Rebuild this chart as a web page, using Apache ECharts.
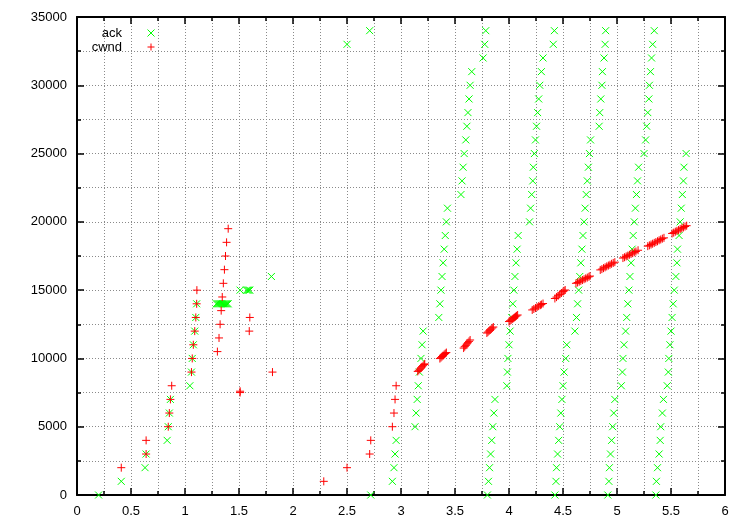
<!DOCTYPE html>
<html>
<head>
<meta charset="utf-8">
<script src="https://cdn.jsdelivr.net/npm/echarts@6/dist/echarts.min.js"></script>
<style>
html,body{margin:0;padding:0;background:#fff;}
#chart{width:750px;height:525px;}
</style>
</head>
<body>
<div id="chart"></div>
<script>
// ---- data (time in s, sequence / window in bytes) ----
const ackSlowStart = [
  [0.20,0],[0.41,1000],[0.63,2000],[0.64,3000],[0.835,4000],[0.845,5000],[0.855,6000],[0.865,7000],
  [1.045,8000],[1.06,9000],[1.067,10000],[1.077,11000],[1.09,12000],[1.10,13000],[1.108,14000]
];
const ackDupCluster = [
  [1.29,14000],[1.30,14000],[1.31,14000],[1.32,14000],[1.33,14000],[1.34,14000],[1.35,14000],
  [1.36,14000],[1.37,14000],[1.38,14000],[1.39,14000],[1.40,14000],
  [1.51,15000],[1.57,15000],[1.58,15000],[1.59,15000],[1.60,15000],[1.80,16000]
];
const ackLater = [
  [2.50,33000],[2.71,34000],[2.72,0],[2.92,1000],[2.935,2000],[2.945,3000],[2.955,4000],
  [3.13,5000],[3.14,6000],[3.15,7000],[3.16,8000],[3.17,9000],[3.185,10000],[3.195,11000],[3.205,12000],
  [3.35,13000],[3.36,14000],[3.37,15000],[3.38,16000],[3.39,17000],[3.40,18000],[3.41,19000],[3.42,20000],[3.43,21000],
  [3.555,22000],[3.565,23000],[3.575,24000],[3.585,25000],[3.60,26000],[3.61,27000],[3.62,28000],[3.63,29000],[3.64,30000],[3.655,31000],
  [3.76,32000],[3.775,33000],[3.785,34000],
  [3.80,0],[3.81,1000],[3.82,2000],[3.83,3000],[3.84,4000],[3.85,5000],[3.86,6000],[3.87,7000],
  [3.98,8000],[3.985,9000],[3.99,10000],[4.00,11000],[4.01,12000],[4.025,13000],[4.035,14000],[4.045,15000],
  [4.055,16000],[4.065,17000],[4.075,18000],[4.085,19000],
  [4.19,20000],[4.20,21000],[4.21,22000],[4.22,23000],[4.225,24000],[4.235,25000],[4.245,26000],[4.255,27000],
  [4.265,28000],[4.275,29000],[4.285,30000],[4.30,31000],[4.315,32000],
  [4.41,33000],[4.42,34000],
  [4.425,0],[4.435,1000],[4.44,2000],[4.45,3000],[4.46,4000],[4.47,5000],[4.48,6000],[4.49,7000],
  [4.50,8000],[4.51,9000],[4.525,10000],[4.535,11000],
  [4.61,12000],[4.625,13000],[4.635,14000],[4.645,15000],[4.655,16000],[4.665,17000],[4.675,18000],[4.685,19000],
  [4.695,20000],[4.705,21000],[4.715,22000],[4.725,23000],[4.735,24000],[4.745,25000],[4.755,26000],
  [4.835,27000],[4.84,28000],[4.85,29000],[4.86,30000],[4.865,31000],[4.88,32000],[4.89,33000],[4.895,34000],
  [4.915,0],[4.925,1000],[4.93,2000],[4.94,3000],[4.95,4000],[4.96,5000],[4.97,6000],[4.98,7000],
  [5.04,8000],[5.05,9000],[5.055,10000],[5.065,11000],[5.08,12000],[5.09,13000],[5.10,14000],[5.11,15000],
  [5.12,16000],[5.13,17000],[5.14,18000],[5.15,19000],[5.16,20000],[5.17,21000],[5.18,22000],[5.19,23000],[5.20,24000],
  [5.25,25000],[5.265,26000],[5.275,27000],[5.285,28000],[5.295,29000],[5.30,30000],[5.31,31000],[5.32,32000],[5.33,33000],[5.345,34000],
  [5.36,0],[5.365,1000],[5.375,2000],[5.39,3000],[5.40,4000],[5.405,5000],[5.42,6000],[5.43,7000],
  [5.465,8000],[5.475,9000],[5.48,10000],[5.49,11000],[5.50,12000],[5.51,13000],[5.52,14000],[5.53,15000],
  [5.545,16000],[5.555,17000],[5.56,18000],[5.575,19000],[5.585,20000],[5.595,21000],[5.605,22000],[5.615,23000],[5.62,24000],[5.64,25000]
];
const cwndSlowStart = [
  [0.41,2000],[0.64,3000],[0.64,4000],[0.845,5000],[0.855,6000],[0.865,7000],[0.877,8000],
  [1.06,9000],[1.067,10000],[1.077,11000],[1.09,12000],[1.10,13000],[1.108,14000],[1.11,15000],
  [1.30,10500],[1.315,11500],[1.325,12500],[1.335,13500],[1.345,14500],[1.355,15500],[1.365,16500],
  [1.375,17500],[1.385,18500],[1.40,19500],
  [1.51,7500],[1.51,7600],[1.595,12000],[1.60,13000],[1.81,9000],
  [2.285,1000],[2.50,2000],[2.71,3000],[2.72,4000],[2.92,5000],[2.935,6000],[2.945,7000],[2.955,8000]
];
const cwndAvoidance = [
  [3.155,9050],[3.165,9130],[3.175,9220],[3.185,9300],[3.195,9390],[3.205,9470],[3.215,9560],[3.22,9600],
  [3.36,9990],[3.37,10060],[3.38,10140],[3.39,10210],[3.40,10290],[3.41,10360],[3.42,10430],
  [3.58,10760],[3.59,10860],[3.60,10960],[3.61,11060],[3.62,11150],[3.63,11250],[3.64,11350],
  [3.795,11860],[3.805,11930],[3.815,12010],[3.825,12080],[3.835,12150],[3.845,12230],[3.855,12300],
  [4.00,12700],[4.01,12760],[4.02,12820],[4.03,12880],[4.04,12940],[4.05,13000],[4.06,13060],[4.07,13120],[4.08,13180],
  [4.215,13550],[4.23,13620],[4.245,13690],[4.26,13760],[4.275,13830],[4.29,13900],[4.30,13950],[4.315,14020],
  [4.425,14390],[4.44,14490],[4.455,14590],[4.47,14690],[4.485,14790],[4.50,14890],[4.51,14950],[4.52,15010],
  [4.62,15500],[4.635,15560],[4.65,15620],[4.665,15680],[4.68,15740],[4.695,15800],[4.71,15860],[4.725,15920],[4.74,15980],[4.75,16030],
  [4.845,16480],[4.86,16540],[4.875,16610],[4.89,16670],[4.905,16740],[4.92,16800],[4.935,16860],[4.95,16930],[4.965,16990],[4.98,17050],
  [5.055,17350],[5.07,17410],[5.085,17470],[5.10,17530],[5.115,17590],[5.13,17650],[5.145,17710],[5.16,17770],[5.175,17830],[5.195,17920],
  [5.285,18220],[5.30,18280],[5.315,18340],[5.33,18400],[5.345,18460],[5.36,18520],[5.375,18580],[5.39,18650],[5.405,18710],[5.42,18770],[5.435,18830],
  [5.51,19150],[5.525,19210],[5.54,19280],[5.555,19340],[5.57,19400],[5.585,19470],[5.60,19530],[5.615,19590],[5.63,19660],[5.645,19720]
];
const seriesNames = ['ack', 'cwnd'];

// ---- styling ----
const GREEN = '#00ff00';
const RED = '#ff0000';
const XMARK = 'path://M0,0L10,10M10,0L0,10';
const PLUS = 'path://M5,0L5,10M0,5L10,5';
const FONT = 'Liberation Sans, Arial, sans-serif';
const gridLine = {show: true, lineStyle: {color: '#8a8a8a', width: 1, type: [1, 2]}};

function axisCommon(showLabel) {
  return {
    axisLine: {show: true, onZero: false, lineStyle: {color: '#000', width: 2}},
    axisTick: {show: true, inside: true, length: 7, lineStyle: {color: '#000', width: 1.5}},
    minorTick: {show: true, splitNumber: 2, length: 4, lineStyle: {color: '#000', width: 1.5}},
    axisLabel: {show: showLabel, color: '#000', fontFamily: FONT, fontSize: 13, formatter: v => String(v)},
  };
}

const chart = echarts.init(document.getElementById('chart'), null, {renderer: 'canvas'});
chart.setOption({
  animation: false,
  backgroundColor: '#fff',
  grid: {left: 77, right: 25, top: 17, bottom: 30, containLabel: false},
  legend: {
    orient: 'vertical',
    left: 77, top: 21,
    align: 'right',
    itemGap: 0,
    itemWidth: 8, itemHeight: 7,
    textStyle: {fontFamily: FONT, fontSize: 13, color: '#000', width: 40, align: 'right', lineHeight: 14, padding: [0, 20, 0, 0]},
    data: [
      {name: seriesNames[0], icon: XMARK, itemStyle: {color: 'rgba(0,0,0,0)', borderColor: GREEN, borderWidth: 1}},
      {name: seriesNames[1], icon: PLUS, itemStyle: {color: 'rgba(0,0,0,0)', borderColor: RED, borderWidth: 1}}
    ]
  },
  xAxis: [
    Object.assign({type: 'value', min: 0, max: 6, interval: 0.5,
      splitLine: gridLine, minorSplitLine: gridLine}, axisCommon(true),
      {axisLabel: {show: true, color: '#000', fontFamily: FONT, fontSize: 13, margin: 10, formatter: v => String(v)}}),
    Object.assign({type: 'value', position: 'top', min: 0, max: 6, interval: 0.5,
      splitLine: {show: false}}, axisCommon(false))
  ],
  yAxis: [
    Object.assign({type: 'value', min: 0, max: 35000, interval: 5000,
      splitLine: gridLine, minorSplitLine: gridLine}, axisCommon(true),
      {axisLabel: {show: true, color: '#000', fontFamily: FONT, fontSize: 13, margin: 10, formatter: v => String(v)}}),
    Object.assign({type: 'value', position: 'right', min: 0, max: 35000, interval: 5000,
      splitLine: {show: false}}, axisCommon(false))
  ],
  series: [
    {
      name: seriesNames[0], type: 'scatter', symbol: XMARK, symbolSize: [7, 7],
      itemStyle: {color: 'rgba(0,0,0,0)', borderColor: GREEN, borderWidth: 1, opacity: 1},
      data: ackSlowStart.concat(ackDupCluster, ackLater), z: 3
    },
    {
      name: seriesNames[1], type: 'scatter', symbol: PLUS, symbolSize: [8, 8],
      itemStyle: {color: 'rgba(0,0,0,0)', borderColor: RED, borderWidth: 1, opacity: 1},
      data: cwndSlowStart.concat(cwndAvoidance), z: 4
    }
  ]
});
</script>
</body>
</html>
